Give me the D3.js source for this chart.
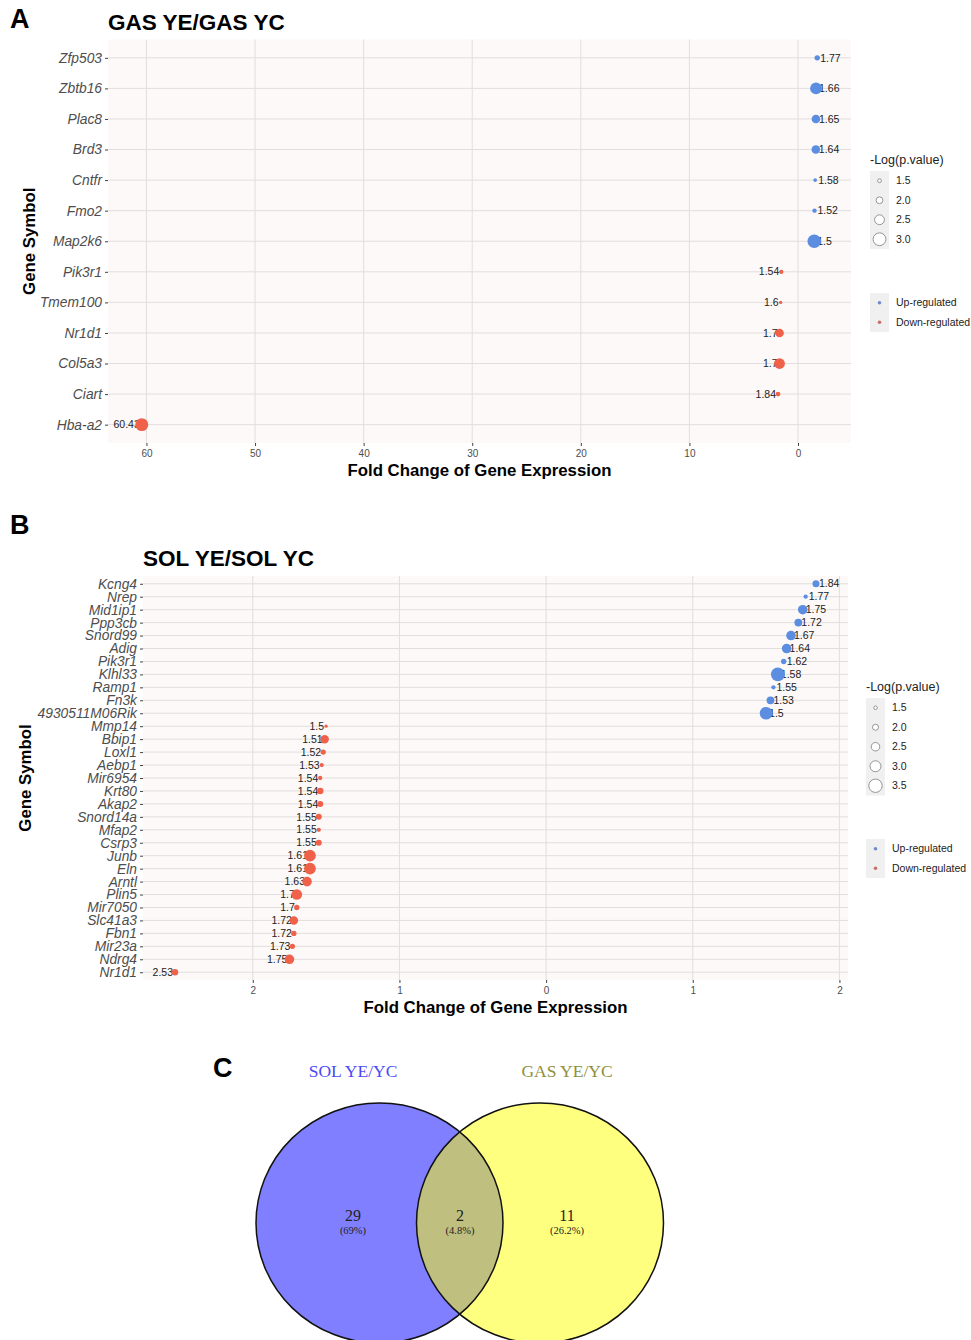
<!DOCTYPE html>
<html><head><meta charset="utf-8">
<script src="https://cdn.jsdelivr.net/npm/d3@7"></script>
<style>html,body{margin:0;padding:0;background:#fff;}svg{display:block;font-family:"Liberation Sans",Arial,sans-serif;}</style>
</head><body>
<script>
// ---------- Panel A data ----------
const genesA = ["Zfp503","Zbtb16","Plac8","Brd3","Cntfr","Fmo2","Map2k6","Pik3r1","Tmem100","Nr1d1","Col5a3","Ciart","Hba-a2"];
const foldA  = [1.77,1.66,1.65,1.64,1.58,1.52,1.5,1.54,1.6,1.7,1.7,1.84,60.43];
const dirA   = ["Up","Up","Up","Up","Up","Up","Up","Down","Down","Down","Down","Down","Down"];
const logpA  = [1.77,2.84,2.30,2.30,1.48,1.59,3.13,1.59,1.41,2.30,2.66,1.66,3.02];
const ticksA = [-60,-50,-40,-30,-20,-10,0];
const sizeBreaksA = [1.5,2.0,2.5,3.0];

// ---------- Panel B data ----------
const genesB = ["Kcng4","Nrep","Mid1ip1","Ppp3cb","Snord99","Adig","Pik3r1","Klhl33","Ramp1","Fn3k","4930511M06Rik",
  "Mmp14","Bbip1","Loxl1","Aebp1","Mir6954","Krt80","Akap2","Snord14a","Mfap2","Csrp3","Junb","Eln","Arntl","Plin5",
  "Mir7050","Slc41a3","Fbn1","Mir23a","Ndrg4","Nr1d1"];
const foldB  = [1.84,1.77,1.75,1.72,1.67,1.64,1.62,1.58,1.55,1.53,1.5,
  1.5,1.51,1.52,1.53,1.54,1.54,1.54,1.55,1.55,1.55,1.61,1.61,1.63,1.7,1.7,1.72,1.72,1.73,1.75,2.53];
const dirB   = ["Up","Up","Up","Up","Up","Up","Up","Up","Up","Up","Up",
  "Down","Down","Down","Down","Down","Down","Down","Down","Down","Down","Down","Down","Down","Down","Down","Down","Down","Down","Down","Down"];
const logpB  = [2.20,1.64,2.72,2.37,2.72,2.72,1.86,3.57,1.64,2.37,3.36,
  1.43,2.50,1.86,1.64,1.64,2.07,1.99,1.99,1.64,1.99,3.15,3.15,2.72,2.93,1.86,2.50,1.86,1.86,2.72,2.07];
const ticksB = [-2,-1,0,1,2];
const sizeBreaksB = [1.5,2.0,2.5,3.0,3.5];

// ---------- Panel C data ----------
const vennSets = ["SOL YE/YC","GAS YE/YC"];
const vennCounts = [29,2,11];
const vennPercents = ["(69%)","(4.8%)","(26.2%)"];

const colorUp = "#5B8DE0", colorDown = "#F0614A";
const legendUp = "#6E8CC8", legendDown = "#C96F6B";

const svg = d3.select("body").append("svg").attr("width",971).attr("height",1340);

function dotPanel(cfg){
  const g = svg.append("g");
  const x = d3.scaleLinear().domain(cfg.domain).range([cfg.x0,cfg.x1]);
  const y = d3.scalePoint().domain(cfg.genes).range([cfg.y0,cfg.y1]).padding(0.6);
  const rs = d3.scaleLinear().domain(cfg.sizeDomain).range(cfg.sizeRange);
  const data = cfg.genes.map((gname,i)=>({g:gname,fc:cfg.fold[i],dir:cfg.dir[i],p:cfg.logp[i],
      v:cfg.dir[i]==="Up"?cfg.fold[i]:-cfg.fold[i]}));
  g.append("rect").attr("x",cfg.x0).attr("y",cfg.y0).attr("width",cfg.x1-cfg.x0).attr("height",cfg.y1-cfg.y0).attr("fill","#FCF9F8");
  g.selectAll(".vg").data(cfg.ticks).join("line").attr("x1",d=>x(d)).attr("x2",d=>x(d)).attr("y1",cfg.y0).attr("y2",cfg.y1)
    .attr("stroke","#E2DEDD").attr("stroke-width",1);
  g.selectAll(".hg").data(cfg.genes).join("line").attr("x1",cfg.x0).attr("x2",cfg.x1).attr("y1",d=>y(d)).attr("y2",d=>y(d))
    .attr("stroke","#E2DEDD").attr("stroke-width",1);
  const xa = g.append("g").attr("transform",`translate(0,${cfg.y1})`)
    .call(d3.axisBottom(x).tickValues(cfg.ticks).tickFormat(d=>Math.abs(d)).tickSize(3).tickPadding(4));
  xa.select(".domain").remove();
  xa.selectAll("line").attr("stroke","#444");
  xa.selectAll("text").attr("fill","#4D4D4D").style("font-size","10px").style("font-family","Liberation Sans, Arial, sans-serif");
  const ya = g.append("g").attr("transform",`translate(${cfg.x0},0)`)
    .call(d3.axisLeft(y).tickSize(3).tickPadding(3));
  ya.select(".domain").remove();
  ya.selectAll("line").attr("stroke","#444");
  ya.selectAll("text").attr("fill","#4D4D4D").style("font-size",cfg.yFont+"px").style("font-style","italic")
    .style("font-family","Liberation Sans, Arial, sans-serif");
  g.selectAll(".lab").data(data).join("text")
    .attr("x",d=>d.dir==="Up"?x(d.v)+3:x(d.v)-2)
    .attr("y",d=>y(d.g)).attr("dy","0.35em")
    .attr("text-anchor",d=>d.dir==="Up"?"start":"end")
    .attr("fill","#222").style("font-size","10.5px").text(d=>d.fc);
  g.selectAll(".pt").data(data).join("circle")
    .attr("cx",d=>x(d.v)).attr("cy",d=>y(d.g)).attr("r",d=>rs(d.p))
    .attr("fill",d=>d.dir==="Up"?colorUp:colorDown);
  svg.append("text").attr("x",cfg.letterX).attr("y",cfg.letterY).text(cfg.letter)
    .style("font-size","27px").style("font-weight","bold").attr("fill","#000");
  svg.append("text").attr("x",cfg.x0).attr("y",cfg.titleY).text(cfg.title)
    .style("font-size","22.5px").style("font-weight","bold").attr("fill","#000");
  svg.append("text").attr("x",(cfg.x0+cfg.x1)/2).attr("y",cfg.y1+33).attr("text-anchor","middle")
    .text("Fold Change of Gene Expression").style("font-size","16.8px").style("font-weight","bold");
  svg.append("text").attr("transform",`translate(${cfg.ylabX},${(cfg.y0+cfg.y1)/2}) rotate(-90)`).attr("text-anchor","middle")
    .text("Gene Symbol").style("font-size","16.8px").style("font-weight","bold");
  const lx = cfg.legX, ly = cfg.legY;
  svg.append("text").attr("x",lx).attr("y",ly).text("-Log(p.value)").style("font-size","12.5px").attr("fill","#222");
  const kh = 19.5;
  svg.append("rect").attr("x",lx).attr("y",ly+7).attr("width",19).attr("height",kh*cfg.sizeBreaks.length).attr("fill","#F0F0F0");
  cfg.sizeBreaks.forEach((b,i)=>{
    const cy = ly+7+kh*i+kh/2;
    svg.append("circle").attr("cx",lx+9.5).attr("cy",cy).attr("r",rs(b)).attr("fill","#fff").attr("stroke","#8A8A8A").attr("stroke-width",0.9);
    svg.append("text").attr("x",lx+26).attr("y",cy).attr("dy","0.35em").text(b.toFixed(1)).style("font-size","10.5px").attr("fill","#222");
  });
  const cy0 = cfg.colLegY;
  svg.append("rect").attr("x",lx).attr("y",cy0).attr("width",19).attr("height",kh*2).attr("fill","#F0F0F0");
  [["Up-regulated",legendUp],["Down-regulated",legendDown]].forEach((d,i)=>{
    const cy = cy0+kh*i+kh/2;
    svg.append("circle").attr("cx",lx+9.5).attr("cy",cy).attr("r",1.8).attr("fill",d[1]);
    svg.append("text").attr("x",lx+26).attr("y",cy).attr("dy","0.35em").text(d[0]).style("font-size","10.5px").attr("fill","#222");
  });
}

dotPanel({genes:genesA,fold:foldA,dir:dirA,logp:logpA,ticks:ticksA,sizeBreaks:sizeBreaksA,
  domain:[-63.54,4.88],x0:108,x1:851,y0:39.5,y1:443,sizeDomain:[1.3,3.2],sizeRange:[1.3,7],yFont:13.8,
  letter:"A",letterX:10,letterY:28,title:"GAS YE/GAS YC",titleY:30,ylabX:35,legX:870,legY:164,colLegY:293});

dotPanel({genes:genesB,fold:foldB,dir:dirB,logp:logpB,ticks:ticksB,sizeBreaks:sizeBreaksB,
  domain:[-2.7485,2.0585],x0:143,x1:848,y0:576,y1:980,sizeDomain:[1.3,3.7],sizeRange:[1.3,7.2],yFont:13.8,
  letter:"B",letterX:10,letterY:534,title:"SOL YE/SOL YC",titleY:566,ylabX:31,legX:866,legY:691,colLegY:839});

// ---------- Panel C: Venn ----------
const vx = d3.scaleLinear().domain([0,1]).range([379.5,540]);
const vg = svg.append("g");
svg.append("text").attr("x",213).attr("y",1077).text("C").style("font-size","27px").style("font-weight","bold");
const circles = [{i:0,fill:"#0000FF"},{i:1,fill:"#FFFF00"}];
vg.selectAll(".vf").data(circles).join("ellipse").attr("cx",d=>vx(d.i)).attr("cy",1223).attr("rx",123.5).attr("ry",120)
  .attr("fill",d=>d.fill).attr("fill-opacity",0.5);
vg.selectAll(".vs").data(circles).join("ellipse").attr("cx",d=>vx(d.i)).attr("cy",1223).attr("rx",123.5).attr("ry",120)
  .attr("fill","none").attr("stroke","#111").attr("stroke-width",1.5);
const setLabelX = [353,567];
const setColors = ["#4B4BF5","#8F8F3A"];
vennSets.forEach((s,i)=>{
  svg.append("text").attr("x",setLabelX[i]).attr("y",1077).attr("text-anchor","middle").text(s)
    .style("font-family","Liberation Serif, DejaVu Serif, serif").style("font-size","17.5px").attr("fill",setColors[i]);
});
const regionX = [353,460,567];
vennCounts.forEach((c,i)=>{
  svg.append("text").attr("x",regionX[i]).attr("y",1221).attr("text-anchor","middle").text(c)
    .style("font-family","Liberation Serif, DejaVu Serif, serif").style("font-size","16px").attr("fill","#222");
  svg.append("text").attr("x",regionX[i]).attr("y",1234).attr("text-anchor","middle").text(vennPercents[i])
    .style("font-family","Liberation Serif, DejaVu Serif, serif").style("font-size","10.5px").attr("fill","#222");
});
</script>
</body></html>
